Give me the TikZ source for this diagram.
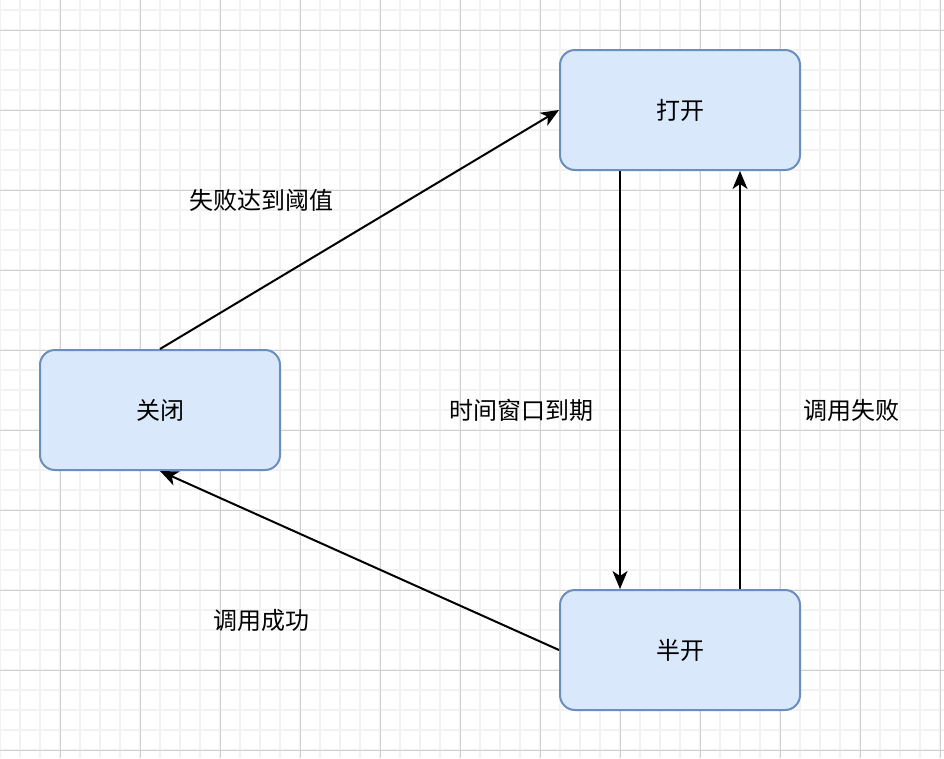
\documentclass[tikz,border=0pt]{standalone}
\usepackage{fontspec}
\setmainfont{Noto Sans CJK SC}
\usetikzlibrary{arrows.meta}
\definecolor{stateFill}{HTML}{DAE8FC}
\definecolor{stateLine}{HTML}{6C8EBF}
\definecolor{gridMinor}{HTML}{F2F2F2}
\definecolor{gridMajor}{HTML}{D0D0D0}
\begin{document}
\begin{tikzpicture}[x=1pt, y=-1pt, font=\fontsize{24}{29}\selectfont,
      >={Stealth[length=18pt, width=15pt, inset=5pt]},
      state/.style={draw=stateLine, fill=stateFill, line width=2pt, rounded corners=15pt,
                    minimum width=240pt, minimum height=120pt},
      trans/.style={->, line width=2pt},
      lbl/.style={inner sep=0pt}]
    \useasboundingbox (0,0) rectangle (944,758);
    \fill[white] (0,0) rectangle (944,758);
    % grid
    \foreach \x in {0,20,...,940} \draw[gridMinor, line width=1.8pt] (\x,0) -- (\x,758);
    \foreach \y in {10,30,...,750} \draw[gridMinor, line width=1.8pt] (0,\y) -- (944,\y);
    \foreach \x in {60,140,...,940} \draw[gridMajor, line width=1pt] (\x,0) -- (\x,758);
    \foreach \y in {30,110,...,750} \draw[gridMajor, line width=1pt] (0,\y) -- (944,\y);
    % states
    \node[state] (closed) at (160,410) {关闭};
    \node[state] (open)   at (680,110) {打开};
    \node[state] (half)   at (680,650) {半开};
    % transitions
    \draw[trans] (closed.north) -- (open.west);
    \draw[trans] ([xshift=-60pt]open.south) -- ([xshift=-60pt]half.north);
    \draw[trans] ([xshift=60pt]half.north) -- ([xshift=60pt]open.south);
    \draw[trans] (half.west) -- (closed.south);
    \node[lbl] (fail)    at (261,200) {失败达到阈值};
    \node[lbl] (expire)  at (521,410) {时间窗口到期};
    \node[lbl] (retry)   at (851,410) {调用失败};
    \node[lbl] (success) at (261,620) {调用成功};
  \end{tikzpicture}
\end{document}
